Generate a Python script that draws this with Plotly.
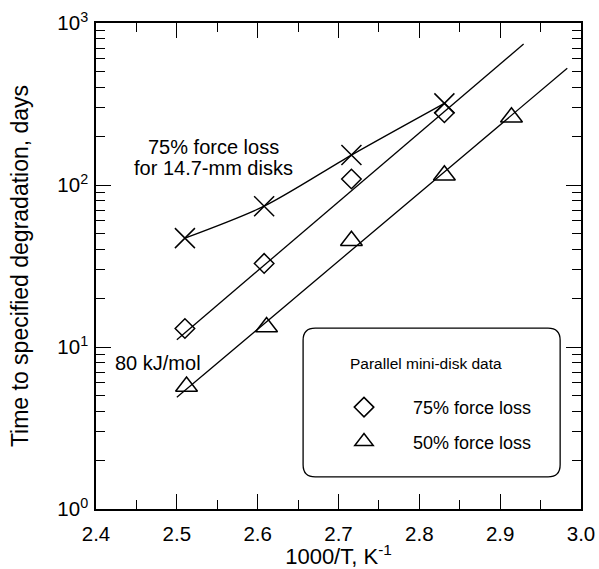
import plotly.graph_objects as go

# ---- data ----
inv_T = [2.51, 2.608, 2.716, 2.831]
days_cross_75 = [47, 74, 153, 319]          # 14.7-mm disks, 75% force loss
days_diamond_75 = [13.0, 32.8, 109, 279]    # mini-disk, 75% force loss
inv_T_tri = [2.512, 2.611, 2.716, 2.831, 2.914]
days_tri_50 = [5.7, 13.3, 45.3, 115, 262]   # mini-disk, 50% force loss

fit75_x = [2.50, 2.929]
fit75_y = [11.1, 741]
fit50_x = [2.50, 2.983]
fit50_y = [4.89, 525]

y_tickvals = [1, 10, 100, 1000]
y_ticktext = ["10<sup>0</sup>", "10<sup>1</sup>", "10<sup>2</sup>", "10<sup>3</sup>"]
x_tick0 = 2.4
x_dtick = 0.1

FONT = "Liberation Sans, Arial, sans-serif"
BLACK = "black"

fig = go.Figure()

fig.add_trace(go.Scatter(x=fit75_x, y=fit75_y, mode="lines",
                         line=dict(color=BLACK, width=1.3), showlegend=False))
fig.add_trace(go.Scatter(x=fit50_x, y=fit50_y, mode="lines",
                         line=dict(color=BLACK, width=1.3), showlegend=False))
fig.add_trace(go.Scatter(x=inv_T, y=days_cross_75, mode="lines+markers",
                         line=dict(color=BLACK, width=1.3, shape="spline", smoothing=0.8),
                         marker=dict(symbol="x-thin-open", size=20, color=BLACK,
                                     line=dict(color=BLACK, width=1.5)),
                         showlegend=False))
fig.add_trace(go.Scatter(x=inv_T, y=days_diamond_75, mode="markers", name="75% force loss",
                         legendgroup="a",
                         marker=dict(symbol="diamond-open", size=15, color=BLACK,
                                     line=dict(color=BLACK, width=1.5))))
fig.add_trace(go.Scatter(x=inv_T_tri, y=days_tri_50, mode="markers", name="50% force loss",
                         legendgroup="b",
                         marker=dict(symbol="triangle-up-open", size=19, color=BLACK,
                                     line=dict(color=BLACK, width=1.5))))

# rounded legend frame (outline only)
x0, x1, y0, y1, rx, ry = 0.427, 0.957, 0.066, 0.372, 0.025, 0.025
path = (f"M {x0+rx},{y0} L {x1-rx},{y0} Q {x1},{y0} {x1},{y0+ry} "
        f"L {x1},{y1-ry} Q {x1},{y1} {x1-rx},{y1} "
        f"L {x0+rx},{y1} Q {x0},{y1} {x0},{y1-ry} "
        f"L {x0},{y0+ry} Q {x0},{y0} {x0+rx},{y0} Z")
fig.add_shape(type="path", path=path, xref="paper", yref="paper",
              line=dict(color=BLACK, width=1.3), layer="above")

annotations = [
    dict(x=2.545, y=2.235, text="75% force loss", showarrow=False,
         xanchor="center", yanchor="middle", font=dict(size=20)),
    dict(x=2.545, y=2.105, text="for 14.7-mm disks", showarrow=False,
         xanchor="center", yanchor="middle", font=dict(size=20)),
    dict(x=2.421, y=0.901, text="80 kJ/mol", showarrow=False,
         xanchor="left", yanchor="middle", font=dict(size=20)),
]

fig.update_layout(
    width=599, height=569,
    margin=dict(l=96, r=18, t=23, b=60, autoexpand=False),
    paper_bgcolor="white", plot_bgcolor="white",
    font=dict(family=FONT, color=BLACK, size=20),
    annotations=annotations,
    legend=dict(
        x=(315 - 96) / 485, y=0.330, xanchor="left", yanchor="top",
        bgcolor="rgba(0,0,0,0)", borderwidth=0,
        title=dict(text="Parallel mini-disk data<br> ", font=dict(size=15.5), side="top center"),
        font=dict(size=18), traceorder="grouped", tracegroupgap=8,
        itemwidth=88,
    ),
    xaxis=dict(
        range=[2.4, 3.0], tickmode="linear", tick0=x_tick0, dtick=x_dtick, tickformat=".1f",
        ticks="inside", ticklen=15, tickwidth=1.3, tickcolor=BLACK,
        minor=dict(ticks="inside", ticklen=9, dtick=0.05, tickwidth=1.3, tickcolor=BLACK, showgrid=False),
        showline=True, linecolor=BLACK, linewidth=1.5, mirror="ticks",
        showgrid=False, zeroline=False,
        tickfont=dict(size=20.5), ticklabelstandoff=6,
        title=dict(text="1000/T, K<sup>-1</sup>", font=dict(size=22), standoff=0),
    ),
    yaxis=dict(
        type="log", range=[0, 3], tickvals=y_tickvals, ticktext=y_ticktext,
        ticks="inside", ticklen=15, tickwidth=1.3, tickcolor=BLACK,
        minor=dict(ticks="inside", ticklen=9, dtick="D1",
                   tickwidth=1.3, tickcolor=BLACK, showgrid=False),
        showline=True, linecolor=BLACK, linewidth=1.5, mirror="ticks",
        showgrid=False, zeroline=False,
        tickfont=dict(size=20.5), ticklabelstandoff=2,
        title=dict(text="Time to specified degradation, days", font=dict(size=23), standoff=22),
    ),
)

fig.write_html("out.html")
